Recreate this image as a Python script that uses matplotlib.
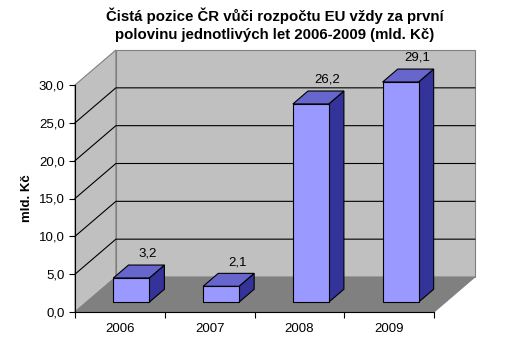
import matplotlib.pyplot as plt
from matplotlib.patches import Polygon
import numpy as np

plt.rcParams["font.family"] = ["Liberation Sans", "DejaVu Sans"]

years = ["2006", "2007", "2008", "2009"]
values = [3.2, 2.1, 26.2, 29.1]
labels = ["3,2", "2,1", "26,2", "29,1"]
yticks = [0, 5, 10, 15, 20, 25, 30]
yticklabels = ["0,0", "5,0", "10,0", "15,0", "20,0", "25,0", "30,0"]

FRONT = "#9999FF"
TOP = "#6666CC"
SIDE = "#333399"
WALL = "#C0C0C0"
FLOOR = "#808080"

fig = plt.figure(figsize=(5.12, 3.47), dpi=100)
ax = fig.add_axes([75 / 512, 35 / 347, 359 / 512, 227 / 347])
ax.set_xlim(-0.5, 3.5)
ax.set_ylim(0, 30)

# 3d depth offset in data units
ddx = 41 / 90
ddy = 35 * 30 / 227
x0, x1 = -0.5, 3.5
ymax = 30

# walls and floor
ax.add_patch(Polygon([(x0, 0), (x0 + ddx, ddy), (x0 + ddx, ymax + ddy), (x0, ymax)],
                     closed=True, fc=WALL, ec="#808080", lw=0.8, clip_on=False, zorder=1))
ax.add_patch(Polygon([(x0 + ddx, ddy), (x1 + ddx, ddy), (x1 + ddx, ymax + ddy), (x0 + ddx, ymax + ddy)],
                     closed=True, fc=WALL, ec="#808080", lw=0.8, clip_on=False, zorder=1))
ax.add_patch(Polygon([(x0, 0), (x1, 0), (x1 + ddx, ddy), (x0 + ddx, ddy)],
                     closed=True, fc=FLOOR, ec="#808080", lw=0.8, clip_on=False, zorder=2))

# gridlines
for v in yticks[1:-1]:
    ax.plot([x0, x0 + ddx, x1 + ddx], [v, v + ddy, v + ddy], color="black", lw=0.8,
            clip_on=False, zorder=1.5)

# bars
w = 0.2
f0, f1 = 0.28, 0.65
for i, v in enumerate(values):
    ox, oy = f0 * ddx, f0 * ddy
    bx, by = (f1 - f0) * ddx, (f1 - f0) * ddy
    l, r = i - w + ox, i + w + ox
    ax.add_patch(Polygon([(r, oy), (r + bx, oy + by), (r + bx, v + oy + by), (r, v + oy)],
                         closed=True, fc=SIDE, ec="black", lw=0.8, clip_on=False, zorder=3))
    ax.add_patch(Polygon([(l, v + oy), (r, v + oy), (r + bx, v + oy + by), (l + bx, v + oy + by)],
                         closed=True, fc=TOP, ec="black", lw=0.8, clip_on=False, zorder=3))
    ax.add_patch(Polygon([(l, oy), (r, oy), (r, v + oy), (l, v + oy)],
                         closed=True, fc=FRONT, ec="black", lw=0.8, clip_on=False, zorder=3))
    ax.annotate(labels[i], (i + 0.68 * ddx, v + f1 * ddy), xytext=(0, 8),
                textcoords="offset points", ha="center", va="center", fontsize=9.5,
                annotation_clip=False)

# axes
for s in ["top", "right"]:
    ax.spines[s].set_visible(False)
ax.spines["left"].set_zorder(4)
ax.spines["bottom"].set_zorder(4)
ax.set_facecolor("none")
ax.set_yticks(yticks)
ax.set_yticklabels(yticklabels, fontsize=9.5)
ax.set_xticks(np.arange(-0.5, 4, 1))
ax.set_xticklabels([])
ax.set_xticks(np.arange(4), minor=True)
ax.set_xticklabels(years, minor=True, fontsize=9.5)
ax.tick_params(axis="x", which="minor", length=0, pad=8)
ax.tick_params(axis="both", which="major", length=4, width=0.8, direction="out")
ax.set_ylabel("mld. Kč", fontsize=9.5, fontweight="bold", labelpad=4)

fig.suptitle("Čistá pozice ČR vůči rozpočtu EU vždy za první\npolovinu jednotlivých let 2006-2009 (mld. Kč)",
             x=275 / 512, y=1 - 8 / 347, fontsize=10.8, fontweight="bold", va="top", linespacing=1.3)

fig.savefig("out.png", dpi=100)
